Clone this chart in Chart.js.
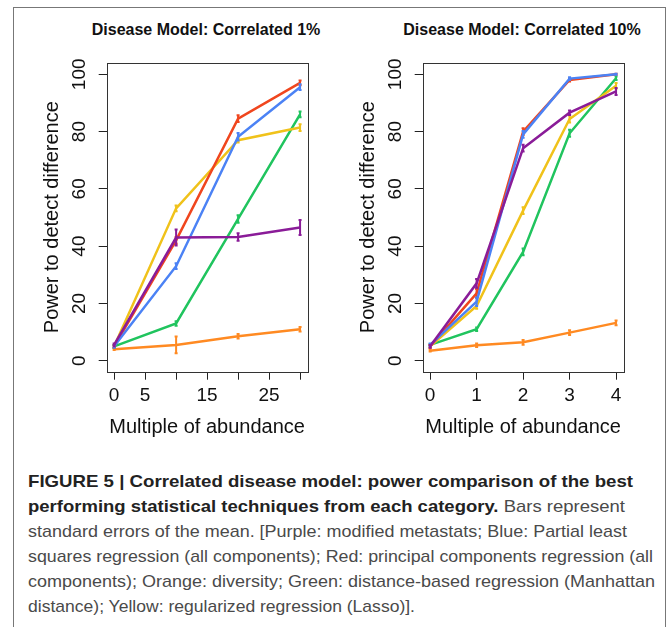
<!DOCTYPE html>
<html>
<head>
<meta charset="utf-8">
<script src="https://cdn.jsdelivr.net/npm/chart.js@4/dist/chart.umd.min.js"></script>
<style>
  body { margin: 0; background: #fff; font-family: "Liberation Sans", Arial, sans-serif; }
  #frame { position: absolute; left: 13px; top: 7px; width: 651px; height: 640px; border: 1px solid #777; border-bottom: none; }
  .ttl { position: absolute; top: 21px; font-weight: bold; font-size: 16px; line-height: 18px; color: #111; transform: translateX(-50%); white-space: nowrap; }
  .wrap { position: absolute; top: 50px; width: 300px; height: 400px; }
  .cap { position: absolute; left: 28px; white-space: nowrap; font-size: 17px; line-height: 17px; color: #4a4a4a; transform-origin: 0 0; }
  .cap b { color: #222; }
</style>
</head>
<body>
<div id="frame"></div>
<div class="ttl" style="left:206px">Disease Model: Correlated 1%</div>
<div class="ttl" style="left:522px">Disease Model: Correlated 10%</div>
<div class="wrap" style="left:20px"><canvas id="chart1" width="300" height="400"></canvas></div>
<div class="wrap" style="left:336px"><canvas id="chart10" width="300" height="400"></canvas></div>

<div class="cap" style="top:473px" data-w="605"><b>FIGURE 5 | Correlated disease model: power comparison of the best</b></div>
<div class="cap" style="top:498px" data-w="597"><b>performing statistical techniques from each category.</b> Bars represent</div>
<div class="cap" style="top:523px" data-w="599">standard errors of the mean. [Purple: modified metastats; Blue: Partial least</div>
<div class="cap" style="top:548px" data-w="625">squares regression (all components); Red: principal components regression (all</div>
<div class="cap" style="top:573px" data-w="627">components); Orange: diversity; Green: distance-based regression (Manhattan</div>
<div class="cap" style="top:598px" data-w="387">distance); Yellow: regularized regression (Lasso)].</div>

<script>
// multiples of abundance
var x1 = [0, 10, 20, 30];
var x10 = [0, 1, 2, 3, 4];

// Correlated 1% : power (%) and standard errors
var purple1 = [5.5, 43, 43.2, 46.5];
var purple1Se = [0.5, 2.8, 1.3, 2.6];
var blue1 = [5, 33, 78.2, 95.5];
var blue1Se = [0.5, 1.0, 1.3, 1.0];
var red1 = [5, 42, 84.5, 97];
var red1Se = [0.5, 1.2, 1.2, 0.8];
var orange1 = [4, 5.5, 8.5, 11];
var orange1Se = [0.3, 2.9, 0.8, 0.8];
var green1 = [5, 13, 49.5, 86];
var green1Se = [0.5, 0.8, 1.3, 1.0];
var yellow1 = [5, 53.2, 77, 81.4];
var yellow1Se = [0.5, 1.0, 0.8, 1.2];

// Correlated 10%
var purple10 = [5, 27, 74.2, 86.6, 94];
var purple10Se = [0.5, 1.5, 1.2, 0.8, 1.2];
var blue10 = [5.5, 20.6, 79, 98.5, 100];
var blue10Se = [0.5, 1.5, 1.2, 0.5, 0.2];
var red10 = [5, 23.5, 80, 98, 100];
var red10Se = [0.5, 1.5, 1.2, 0.5, 0.2];
var orange10 = [3.5, 5.4, 6.4, 9.8, 13.2];
var orange10Se = [0.3, 0.6, 0.8, 0.8, 0.8];
var green10 = [5.5, 11, 38, 79.4, 98.6];
var green10Se = [0.3, 0.6, 1.2, 1.2, 0.6];
var yellow10 = [5, 19.1, 52.4, 84.4, 96];
var yellow10Se = [0.5, 1.0, 1.2, 1.2, 1.0];

// axis ticks
var xTicks1 = [0, 5, 10, 15, 20, 25, 30];
var xTickLabels1 = ['0', '5', '', '15', '', '25', ''];
var xTicks10 = [0, 1, 2, 3, 4];
var xTickLabels10 = ['0', '1', '2', '3', '4'];
var yTicks = [0, 20, 40, 60, 80, 100];
var yTickLabels = ['0', '20', '40', '60', '80', '100'];

var colors = {
  purple: '#8a1c98', blue: '#4b82f5', red: '#f0461e',
  orange: '#ff8a22', green: '#20c45e', yellow: '#f0c21a'
};
var axisColor = '#222';

function pts(xs, ys) {
  return xs.map(function(x, i) { return { x: x, y: ys[i] }; });
}

function makeSet(name, xs, ys, se, color, order) {
  return {
    label: name, data: pts(xs, ys), se: se,
    borderColor: color, backgroundColor: color,
    borderWidth: 2.5, pointRadius: 0, tension: 0, order: order
  };
}

var rPlot = {
  id: 'rPlot',
  afterDatasetDraw: function(chart, args) {
    var ds = chart.data.datasets[args.index];
    var xs = chart.scales.x, ys = chart.scales.y, ctx = chart.ctx;
    ctx.save();
    ctx.strokeStyle = ds.borderColor;
    ctx.lineWidth = 2;
    ds.data.forEach(function(p, j) {
      var px = xs.getPixelForValue(p.x);
      var lo = ys.getPixelForValue(p.y - ds.se[j]);
      var hi = ys.getPixelForValue(p.y + ds.se[j]);
      ctx.beginPath();
      ctx.moveTo(px, lo); ctx.lineTo(px, hi);
      ctx.moveTo(px - 1.5, lo); ctx.lineTo(px + 1.5, lo);
      ctx.moveTo(px - 1.5, hi); ctx.lineTo(px + 1.5, hi);
      ctx.stroke();
    });
    ctx.restore();
  },
  afterDraw: function(chart) {
    var a = chart.chartArea, ctx = chart.ctx, ys = chart.scales.y;
    ctx.save();
    ctx.strokeStyle = '#333';
    ctx.lineWidth = 1;
    ctx.strokeRect(Math.round(a.left) + 0.5, Math.round(a.top) + 0.5,
      Math.round(a.right - a.left), Math.round(a.bottom - a.top));
    // y tick labels, rotated like R's default axis
    ctx.fillStyle = '#111';
    ctx.font = '19px "Liberation Sans", Arial, sans-serif';
    ctx.textAlign = 'center';
    ctx.textBaseline = 'middle';
    yTicks.forEach(function(v, i) {
      ctx.save();
      ctx.translate(60, ys.getPixelForValue(v));
      ctx.rotate(-Math.PI / 2);
      ctx.fillText(yTickLabels[i], 0, 0);
      ctx.restore();
    });
    ctx.restore();
  }
};

function makeChart(id, xs, xTicks, xLabels, xMin, xMax, sets) {
  var font = { family: '"Liberation Sans", Arial, sans-serif', size: 19 };
  return new Chart(document.getElementById(id), {
    type: 'line',
    data: { datasets: sets },
    plugins: [rPlot],
    options: {
      responsive: false,
      animation: false,
      layout: { padding: { top: 12.7, right: 12.5, left: 0, bottom: 0 } },
      plugins: { legend: { display: false }, tooltip: { enabled: false } },
      scales: {
        x: {
          type: 'linear', min: xMin, max: xMax,
          afterBuildTicks: function(s) { s.ticks = xTicks.map(function(v) { return { value: v }; }); },
          afterFit: function(s) { s.height = 78.3; },
          ticks: {
            autoSkip: false, maxRotation: 0, padding: 5, color: '#111', font: font,
            callback: function(v, i) { return xLabels[i]; }
          },
          grid: { drawOnChartArea: false, drawTicks: true, tickLength: 8, color: axisColor },
          border: { display: false },
          title: { display: true, text: 'Multiple of abundance', color: '#111',
                   font: { family: font.family, size: 20 }, padding: { top: 0, bottom: 11 } }
        },
        y: {
          type: 'linear', min: -3.85, max: 104.05,
          afterBuildTicks: function(s) { s.ticks = yTicks.map(function(v) { return { value: v }; }); },
          afterFit: function(s) { s.width = 86.7; },
          ticks: { callback: function() { return ''; }, padding: 0 },
          grid: { drawOnChartArea: false, drawTicks: true, tickLength: 8, color: axisColor },
          border: { display: false },
          title: { display: true, text: 'Power to detect difference', color: '#111',
                   font: { family: font.family, size: 20 }, padding: { top: 20, bottom: 0 } }
        }
      }
    }
  });
}

makeChart('chart1', x1, xTicks1, xTickLabels1, -1.2, 31.2, [
  makeSet('Modified metastats', x1, purple1, purple1Se, colors.purple, 1),
  makeSet('Partial least squares regression', x1, blue1, blue1Se, colors.blue, 2),
  makeSet('Principal components regression', x1, red1, red1Se, colors.red, 3),
  makeSet('Regularized regression (Lasso)', x1, yellow1, yellow1Se, colors.yellow, 4),
  makeSet('Distance-based regression', x1, green1, green1Se, colors.green, 5),
  makeSet('Diversity', x1, orange1, orange1Se, colors.orange, 6)
]);

makeChart('chart10', x10, xTicks10, xTickLabels10, -0.16, 4.16, [
  makeSet('Modified metastats', x10, purple10, purple10Se, colors.purple, 1),
  makeSet('Partial least squares regression', x10, blue10, blue10Se, colors.blue, 2),
  makeSet('Principal components regression', x10, red10, red10Se, colors.red, 3),
  makeSet('Regularized regression (Lasso)', x10, yellow10, yellow10Se, colors.yellow, 4),
  makeSet('Distance-based regression', x10, green10, green10Se, colors.green, 5),
  makeSet('Diversity', x10, orange10, orange10Se, colors.orange, 6)
]);

// stretch caption lines to the widths they have in the figure
document.querySelectorAll('.cap').forEach(function(el) {
  var w = el.getBoundingClientRect().width;
  el.style.transform = 'scaleX(' + (parseFloat(el.dataset.w) / w) + ')';
});
</script>
</body>
</html>
